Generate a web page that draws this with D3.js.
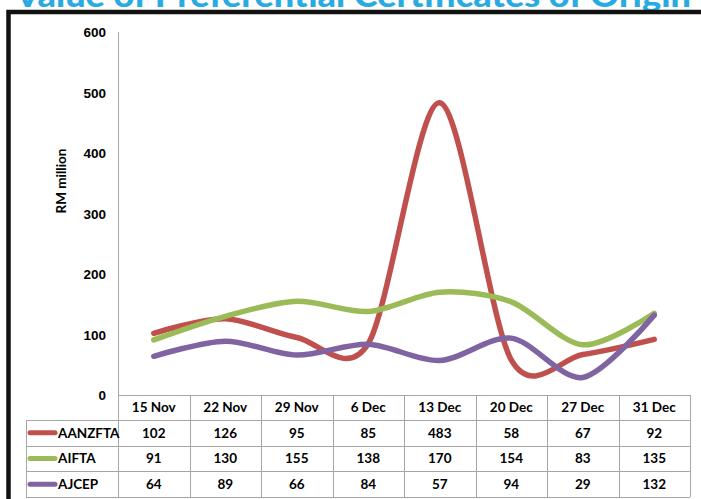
<!DOCTYPE html>
<html lang="en">
<head>
  <meta charset="utf-8">
  <title>Value of Preferential Certificates of Origin</title>
  <script src="https://d3js.org/d3.v7.min.js"></script>
  <style>
  body { margin: 0; background: #fff; }
  svg { display: block; font-family: Lato, "Open Sans", sans-serif; font-weight: 700; }
  .tick text { font-size: 13.5px; fill: #000; }
  .cell { font-size: 13.5px; fill: #000; text-anchor: middle; }
  </style>
</head>
<body>
<script>
var weeks = ["15 Nov", "22 Nov", "29 Nov", "6 Dec", "13 Dec", "20 Dec", "27 Dec", "31 Dec"];
var seriesNames = ["AANZFTA", "AIFTA", "AJCEP"];
var aanzfta = [102, 126, 95, 85, 483, 58, 67, 92];
var aifta = [91, 130, 155, 138, 170, 154, 83, 135];
var ajcep = [64, 89, 66, 84, 57, 94, 29, 132];
var yTicks = [0, 100, 200, 300, 400, 500, 600];

var series = [
  {name: seriesNames[0], values: aanzfta, color: "#C0504D"},
  {name: seriesNames[1], values: aifta, color: "#9BBB59"},
  {name: seriesNames[2], values: ajcep, color: "#8064A2"}
];

var width = 701, height = 499;
var grid = "#a6a6a6";

var svg = d3.select("body").append("svg")
    .attr("width", width)
    .attr("height", height);

// title, cut off at the top like the source image
svg.append("text")
    .attr("x", 15)
    .attr("y", 7)
    .attr("textLength", 676)
    .attr("lengthAdjust", "spacingAndGlyphs")
    .style("font-size", "32px")
    .style("font-weight", 900)
    .style("fill", "#29ABE2")
    .text("Value of Preferential Certificates of Origin");

// black frame
svg.append("path")
    .attr("d", "M8.5,499 V12 H701")
    .attr("fill", "none")
    .attr("stroke", "#111")
    .attr("stroke-width", 4.5);

var x = d3.scaleBand()
    .domain(weeks)
    .range([118, 690]);

var y = d3.scaleLinear()
    .domain([0, 600])
    .range([395, 32]);

var row = d3.scaleBand()
    .domain(seriesNames)
    .range([420, 497]);

// y axis
var yAxis = svg.append("g")
    .attr("transform", "translate(118,0)")
    .call(d3.axisLeft(y).tickValues(yTicks).tickSize(0).tickPadding(12));
yAxis.select(".domain").remove();
yAxis.selectAll(".tick text").attr("dy", "0.35em");

svg.append("line")
    .attr("x1", 118.5).attr("x2", 118.5)
    .attr("y1", 32).attr("y2", 497)
    .attr("stroke", grid);

svg.append("text")
    .attr("transform", "translate(66," + 181 + ") rotate(-90)")
    .attr("text-anchor", "middle")
    .style("font-size", "13.5px")
    .text("RM million");

// table grid
var table = svg.append("g");
var hLines = [395, 420, 420 + row.bandwidth(), 420 + 2 * row.bandwidth(), 497];
hLines.forEach(function(v, i) {
  table.append("line")
      .attr("x1", i === 0 ? 118 : 26)
      .attr("x2", 690)
      .attr("y1", Math.round(v) + 0.5)
      .attr("y2", Math.round(v) + 0.5)
      .attr("stroke", grid);
});
weeks.forEach(function(w) {
  table.append("line")
      .attr("x1", Math.round(x(w) + x.bandwidth()) + 0.5)
      .attr("x2", Math.round(x(w) + x.bandwidth()) + 0.5)
      .attr("y1", 395)
      .attr("y2", 497)
      .attr("stroke", grid);
});
table.append("line")
    .attr("x1", 26.5).attr("x2", 26.5)
    .attr("y1", 420).attr("y2", 497)
    .attr("stroke", grid);

table.selectAll(".head")
    .data(weeks)
  .enter().append("text")
    .attr("class", "cell")
    .attr("x", function(d) { return x(d) + x.bandwidth() / 2; })
    .attr("y", 407.5)
    .attr("dy", "0.35em")
    .text(function(d) { return d; });

series.forEach(function(s) {
  var cy = row(s.name) + row.bandwidth() / 2;
  table.append("line")
      .attr("x1", 30).attr("x2", 55)
      .attr("y1", cy).attr("y2", cy)
      .attr("stroke", s.color)
      .attr("stroke-width", 5)
      .attr("stroke-linecap", "round");
  table.append("text")
      .attr("x", 58)
      .attr("y", cy)
      .attr("dy", "0.35em")
      .style("font-size", "13.5px")
      .text(s.name);
  table.selectAll(null)
      .data(s.values)
    .enter().append("text")
      .attr("class", "cell")
      .attr("x", function(d, i) { return x(weeks[i]) + x.bandwidth() / 2; })
      .attr("y", cy)
      .attr("dy", "0.35em")
      .text(function(d) { return d; });
});

// lines
var line = d3.line()
    .x(function(d, i) { return x(weeks[i]) + x.bandwidth() / 2; })
    .y(function(d) { return y(d); })
    .curve(d3.curveCardinal.tension(0.1));

svg.selectAll(".series")
    .data(series)
  .enter().append("path")
    .attr("class", "series")
    .attr("d", function(d) { return line(d.values); })
    .attr("fill", "none")
    .attr("stroke", function(d) { return d.color; })
    .attr("stroke-width", 5.5)
    .attr("stroke-linecap", "round")
    .attr("stroke-linejoin", "round");
</script>
</body>
</html>
